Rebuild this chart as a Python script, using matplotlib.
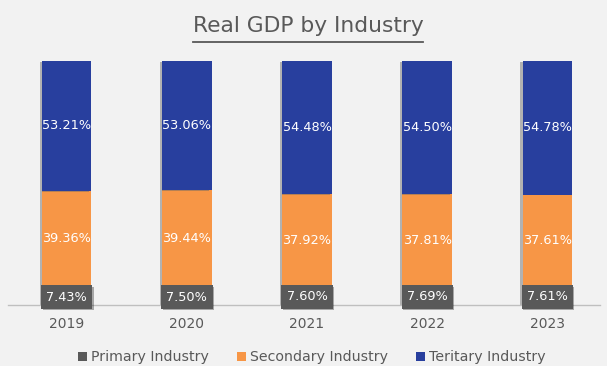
import matplotlib
matplotlib.use("Agg")
import matplotlib.pyplot as plt
import matplotlib.patheffects as pe
from matplotlib.lines import Line2D
from matplotlib.patches import Patch
import numpy as np

YEARS = ["2019", "2020", "2021", "2022", "2023"]
PRIMARY = [7.43, 7.50, 7.60, 7.69, 7.61]
SECONDARY = [39.36, 39.44, 37.92, 37.81, 37.61]
TERTIARY = [53.21, 53.06, 54.48, 54.50, 54.78]
SERIES = ["Primary Industry", "Secondary Industry", "Teritary Industry"]

BG = "#f2f2f2"
GREY = "#595959"
ORANGE = "#f79646"
BLUE = "#283f9e"

plt.rcParams["font.family"] = ["DejaVu Sans"]

fig = plt.figure(figsize=(6.07, 3.66), dpi=100, facecolor=BG)
ax = fig.add_axes([8 / 607, 61 / 366, 592 / 607, 244 / 366], facecolor=BG)

x = np.arange(len(YEARS))
width = 0.41
shadow = [pe.SimplePatchShadow(offset=(-1.5, -0.5), shadow_rgbFace="#666666", alpha=0.45), pe.Normal()]

prim = np.array(PRIMARY)
sec = np.array(SECONDARY)
ter = np.array(TERTIARY)

ax.bar(x, prim, width, color=GREY, path_effects=shadow, zorder=2)
ax.bar(x, sec, width, bottom=prim, color=ORANGE, path_effects=shadow, zorder=2)
ax.bar(x, ter, width, bottom=prim + sec, color=BLUE, path_effects=shadow, zorder=2)

for i in range(len(YEARS)):
    ax.text(x[i], prim[i] + sec[i] + ter[i] / 2, f"{ter[i]:.2f}%", ha="center", va="center",
            color="white", fontsize=9.3, zorder=4)
    ax.text(x[i], prim[i] + sec[i] / 2, f"{sec[i]:.2f}%", ha="center", va="center",
            color="white", fontsize=9.3, zorder=4)
    ax.text(x[i], prim[i] / 2 - 0.5, f"{prim[i]:.2f}%", ha="center", va="center",
            color="white", fontsize=9.3, zorder=5,
            bbox=dict(boxstyle="square,pad=0.4", facecolor=GREY, edgecolor="none",
                      path_effects=[pe.SimplePatchShadow(offset=(1, -1), alpha=0.35), pe.Normal()]))

ax.set_xlim(-0.49, 4.44)
ax.set_ylim(0, 100)
ax.set_yticks([])
ax.set_xticks(x)
ax.set_xticklabels(YEARS, fontsize=10, color=GREY)
ax.tick_params(axis="x", length=0, pad=9)
for side in ["left", "right", "top"]:
    ax.spines[side].set_visible(False)
ax.spines["bottom"].set_color("#bfbfbf")
ax.spines["bottom"].set_linewidth(1)

# underlined title: line spans the drawn text width
title = fig.text(0.5075, 1 - 26 / 366, "Real GDP by Industry", ha="center", va="center",
                 fontsize=15.7, color=GREY)
fig.canvas.draw()
bb = title.get_window_extent().transformed(fig.transFigure.inverted())
fig.add_artist(Line2D([bb.x0, bb.x1], [1 - 41.5 / 366] * 2, color=GREY, lw=1.3))

handles = [Patch(facecolor=c, edgecolor="none") for c in [GREY, ORANGE, BLUE]]
fig.legend(handles, SERIES, loc="center", bbox_to_anchor=(0.514, 1 - 357.5 / 366), ncol=3,
           frameon=False, fontsize=10.2, labelcolor=GREY, handlelength=0.6, handleheight=0.6,
           handletextpad=0.3, columnspacing=2.0, borderpad=0.1)

fig.savefig("out.png", dpi=100, facecolor=BG)
